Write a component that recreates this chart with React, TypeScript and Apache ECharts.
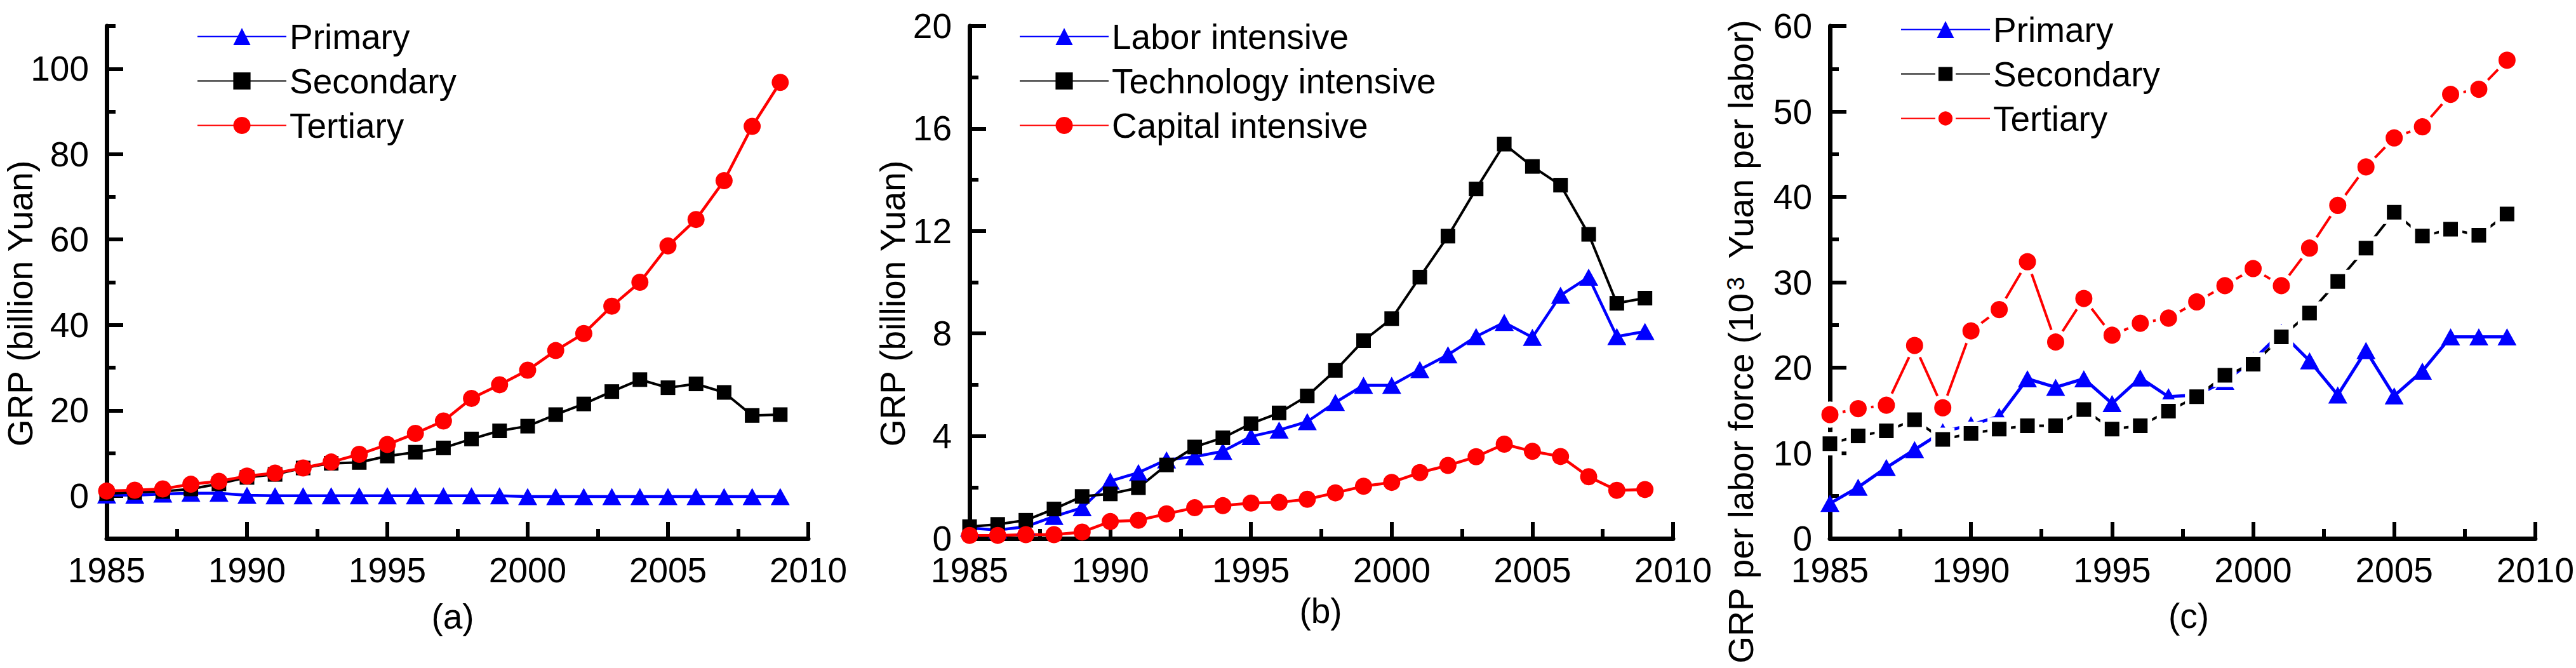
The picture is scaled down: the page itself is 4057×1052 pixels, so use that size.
import React, { useEffect, useRef } from 'react';
import * as echarts from 'echarts';

// ---------------- data ----------------
const years = [
  1985, 1986, 1987, 1988, 1989, 1990, 1991, 1992, 1993, 1994, 1995, 1996, 1997,
  1998, 1999, 2000, 2001, 2002, 2003, 2004, 2005, 2006, 2007, 2008, 2009,
];

// (a) GRP (billion Yuan)
const aPrimary = [0.2, 0.1, 0.4, 0.6, 0.6, 0.1, 0, 0, 0, 0, 0, 0, 0, 0, 0, -0.2, -0.2, -0.2, -0.2, -0.2, -0.2, -0.2, -0.2, -0.2, -0.2];
const aSecondary = [0.5, 0.8, 1.0, 1.6, 2.8, 4.3, 5.0, 6.5, 7.6, 7.8, 9.3, 10.2, 11.2, 13.3, 15.2, 16.3, 19.0, 21.5, 24.4, 27.2, 25.3, 26.2, 24.2, 18.8, 19.0];
const aTertiary = [1.1, 1.3, 1.6, 2.7, 3.4, 4.6, 5.3, 6.5, 7.9, 9.7, 12.0, 14.6, 17.5, 22.8, 26.0, 29.4, 34.0, 38.0, 44.4, 50.0, 58.5, 64.7, 73.8, 86.5, 96.8];

// (b) GRP (billion Yuan)
const bLabor = [0.41, 0.33, 0.46, 0.86, 1.2, 2.24, 2.57, 3.07, 3.19, 3.4, 3.98, 4.23, 4.56, 5.31, 5.98, 5.98, 6.59, 7.17, 7.88, 8.43, 7.85, 9.49, 10.2, 7.88, 8.08];
const bTech = [0.46, 0.55, 0.71, 1.15, 1.64, 1.74, 1.98, 2.87, 3.57, 3.93, 4.48, 4.9, 5.56, 6.56, 7.72, 8.58, 10.2, 11.8, 13.64, 15.39, 14.52, 13.79, 11.87, 9.18, 9.38];
const bCapital = [0.12, 0.12, 0.15, 0.15, 0.25, 0.66, 0.71, 0.96, 1.2, 1.28, 1.38, 1.41, 1.53, 1.78, 2.04, 2.19, 2.57, 2.85, 3.19, 3.68, 3.4, 3.2, 2.41, 1.88, 1.91];

// (c) GRP per labor force (10^3 Yuan per labor)
const cPrimary = [4.1, 6.0, 8.3, 10.4, 12.5, 13.3, 14.3, 18.7, 17.7, 18.7, 15.8, 18.8, 16.6, 16.8, 18.4, 20.9, 24.1, 20.8, 16.8, 22.0, 16.7, 19.6, 23.6, 23.6, 23.6];
const cSecondary = [11.1, 12.0, 12.6, 13.9, 11.6, 12.3, 12.8, 13.2, 13.2, 15.1, 12.8, 13.2, 14.9, 16.6, 19.1, 20.4, 23.6, 26.4, 30.1, 34.0, 38.2, 35.4, 36.2, 35.5, 38.0];
const cTertiary = [14.5, 15.2, 15.6, 22.6, 15.3, 24.3, 26.8, 32.4, 23.0, 28.1, 23.8, 25.2, 25.8, 27.7, 29.6, 31.6, 29.6, 34.0, 39.0, 43.5, 46.9, 48.2, 52.0, 52.6, 56.0];

// tick labels
const aYLabels = [0, 20, 40, 60, 80, 100];
const aYMinor = [10, 30, 50, 70, 90, 110];

const legendA = ['Primary', 'Secondary', 'Tertiary'];
const legendB = ['Labor intensive', 'Technology intensive', 'Capital intensive'];

// ---------------- styling ----------------
const FONT = "'Liberation Sans', Arial, Helvetica, sans-serif";
const BLUE = '#0000ff';
const BLACK = '#000000';
const RED = '#ff0000';
const FS = 55;

const pairs = (vals: number[]) => vals.map((v, i) => [years[i], v]);

const mkLine = (w: number) => ({ color: '#000000', width: w, type: 'solid', opacity: 1 });
const labelStyle = () => ({ fontSize: FS, color: BLACK, fontFamily: FONT });

function makeX(gridIndex: number) {
  return {
    type: 'value',
    gridIndex,
    min: 1985,
    max: 2010,
    interval: 5,
    axisLine: { show: true, onZero: false, lineStyle: mkLine(7) },
    axisTick: { show: true, inside: true, length: 26, lineStyle: mkLine(6) },
    minorTick: { show: true, splitNumber: 2, length: 15, lineStyle: mkLine(6) },
    splitLine: { show: false },
    minorSplitLine: { show: false },
    axisLabel: { ...labelStyle(), margin: 22, formatter: (v: number) => String(v) },
  };
}

function makeY(gridIndex: number, min: number, max: number, interval: number) {
  return {
    type: 'value',
    gridIndex,
    position: 'left',
    min,
    max,
    interval,
    axisLine: { show: true, onZero: false, lineStyle: mkLine(7) },
    axisTick: { show: true, inside: true, length: 26, lineStyle: mkLine(6) },
    minorTick: { show: true, splitNumber: 2, length: 14, lineStyle: mkLine(6) },
    splitLine: { show: false },
    minorSplitLine: { show: false },
    axisLabel: { ...labelStyle(), margin: 28, formatter: (v: number) => String(v) },
  };
}

function line(
  name: string,
  vals: number[],
  xi: number,
  yi: number,
  color: string,
  symbol: string,
  size: number | number[],
  width: number,
  gap = false
) {
  const GAP = 7;
  const s = gap
    ? Array.isArray(size)
      ? [size[0] + GAP, size[1] + GAP]
      : size + GAP
    : size;
  return {
    type: 'line',
    name,
    xAxisIndex: xi,
    yAxisIndex: yi,
    data: pairs(vals),
    symbol,
    symbolSize: s,
    showSymbol: true,
    lineStyle: { color, width },
    itemStyle: gap
      ? { color, borderColor: '#ffffff', borderWidth: GAP }
      : { color, borderWidth: 0 },
    emphasis: { disabled: true },
  };
}

const TRI = [30, 27];
const SQ = 23;
const CIR = 27;

function legend(left: number, top: number, data: any[]) {
  return {
    left,
    top,
    orient: 'vertical',
    padding: 0,
    itemWidth: 140,
    itemHeight: 34,
    itemGap: 15,
    selectedMode: false,
    textStyle: { fontSize: FS, color: BLACK, fontFamily: FONT },
    data,
  };
}

function titleText(text: string, x: number, y: number, rotate: boolean, rich?: any) {
  return {
    type: 'text',
    x,
    y,
    rotation: rotate ? Math.PI / 2 : 0,
    style: {
      text,
      fontSize: FS,
      fontFamily: FONT,
      fill: BLACK,
      align: 'center',
      verticalAlign: 'middle',
      textAlign: 'center',
      textVerticalAlign: 'middle',
      ...(rich ? { rich } : {}),
    },
  };
}

export default function App() {
  const ref = useRef<HTMLDivElement>(null);

  useEffect(() => {
    if (!ref.current) return;
    const chart = echarts.init(ref.current, null, { renderer: 'svg' });

    const option: any = {
      animation: false,
      backgroundColor: '#ffffff',
      textStyle: { fontFamily: FONT },
      grid: [
        { left: 168, top: 41, width: 1105, height: 807 },
        { left: 1527, top: 41, width: 1108, height: 807 },
        { left: 2882, top: 41, width: 1111, height: 807 },
      ],
      xAxis: [makeX(0), makeX(1), makeX(2)],
      yAxis: [
        {
          ...makeY(0, -10, 110, 10),
          minorTick: { show: false },
          axisTick: { show: true, inside: true, length: 26, lineStyle: mkLine(6), customValues: aYLabels },
          axisLabel: { ...labelStyle(), margin: 28, customValues: aYLabels, formatter: (v: number) => String(v) },
        },
        {
          type: 'value',
          gridIndex: 0,
          position: 'left',
          offset: 0,
          min: -10,
          max: 110,
          interval: 10,
          axisLine: { show: false, onZero: false },
          axisTick: { show: true, inside: true, length: 14, lineStyle: mkLine(6), customValues: aYMinor },
          axisLabel: { show: false },
          splitLine: { show: false },
        },
        makeY(1, 0, 20, 4),
        makeY(2, 0, 60, 10),
      ],
      legend: [
        legend(310, 30, legendA),
        legend(1605, 30, legendB),
        legend(2993, 19, [
          { name: 'Primary' },
          { name: 'Secondary', itemStyle: { borderColor: '#ffffff', borderWidth: 5 } },
          { name: 'Tertiary', itemStyle: { borderColor: '#ffffff', borderWidth: 5 } },
        ]),
      ],
      series: [
        line('Primary', aPrimary, 0, 0, BLUE, 'triangle', TRI, 4.5),
        line('Secondary', aSecondary, 0, 0, BLACK, 'rect', SQ, 4),
        line('Tertiary', aTertiary, 0, 0, RED, 'circle', CIR, 4.5),
        line('Labor intensive', bLabor, 1, 2, BLUE, 'triangle', TRI, 4.5),
        line('Technology intensive', bTech, 1, 2, BLACK, 'rect', SQ, 4),
        line('Capital intensive', bCapital, 1, 2, RED, 'circle', CIR, 4.5),
        line('Primary', cPrimary, 2, 3, BLUE, 'triangle', TRI, 5),
        line('Secondary', cSecondary, 2, 3, BLACK, 'rect', SQ, 4, true),
        line('Tertiary', cTertiary, 2, 3, RED, 'circle', CIR, 4, true),
      ],
      graphic: [
        titleText('GRP (billion Yuan)', 32, 478, true),
        titleText('GRP (billion Yuan)', 1406, 478, true),
        titleText('{n|GRP per labor force (10}{s|3}{n| Yuan per labor)}', 2742, 538, true, {
          n: { fontSize: FS, fontFamily: FONT, fill: BLACK, color: BLACK },
          s: { fontSize: 38, fontFamily: FONT, fill: BLACK, color: BLACK, verticalAlign: 'top', padding: [0, 14, 0, 4] },
        }),
        titleText('(a)', 713, 971, false),
        titleText('(b)', 2080, 962, false),
        titleText('(c)', 3447, 970, false),
      ],
    };

    chart.setOption(option);
    return () => chart.dispose();
  }, []);

  return (
    <div>
      <div ref={ref} style={{ position: 'absolute', left: 0, top: 0, width: 4057, height: 1052 }} />
    </div>
  );
}
